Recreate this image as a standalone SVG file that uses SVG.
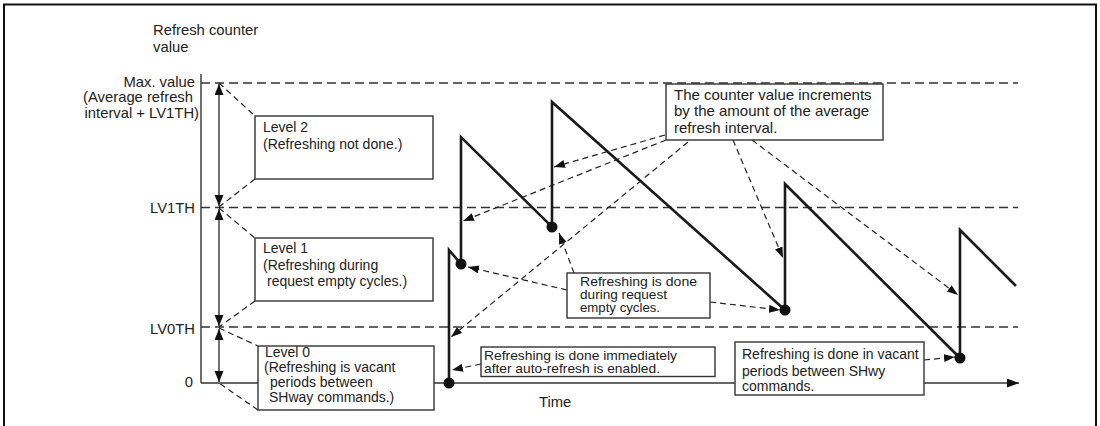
<svg xmlns="http://www.w3.org/2000/svg" width="1100" height="426" viewBox="0 0 1100 426">
<defs>
<style>
text{font-family:"Liberation Sans",Arial,sans-serif;font-size:14px;fill:#222}
.lbl{font-size:14.8px}
.big{font-size:15px}
.tight{font-size:13px}
.box{fill:#fff;stroke:#333;stroke-width:1.4}
.grid{stroke:#333;stroke-width:1.3;stroke-dasharray:9,5;fill:none}
.con{stroke:#222;stroke-width:1.2;stroke-dasharray:6,4;fill:none}
.axis{stroke:#333;stroke-width:1.4;fill:none}
.saw{stroke:#1a1a1a;stroke-width:2.6;fill:none;stroke-linejoin:miter}
</style>
<marker id="ah" markerUnits="userSpaceOnUse" markerWidth="12" markerHeight="9" refX="11" refY="4" orient="auto">
<path d="M0,0 L11,4 L0,8 z" fill="#111"/>
</marker>
<marker id="dh" markerUnits="userSpaceOnUse" markerWidth="12" markerHeight="10" refX="11" refY="4.5" orient="auto-start-reverse">
<path d="M0,0 L11,4.5 L0,9 z" fill="#111"/>
</marker>
<marker id="th" markerUnits="userSpaceOnUse" markerWidth="14" markerHeight="10" refX="12" refY="4.5" orient="auto">
<path d="M0,0 L12,4.5 L0,9 z" fill="#111"/>
</marker>
</defs>

<path d="M4,430 V4.5 H1096 V430" fill="none" stroke="#111" stroke-width="2"/>

<g id="axes">
<line class="grid" x1="201" y1="83" x2="1018" y2="83"/>
<line class="grid" x1="201" y1="207.5" x2="1018" y2="207.5"/>
<line class="grid" x1="201" y1="327" x2="1018" y2="327"/>
<line class="axis" x1="201" y1="74" x2="201" y2="383"/>
<line class="axis" x1="201" y1="383" x2="1019" y2="383" marker-end="url(#th)"/>
<line class="axis" x1="219" y1="84" x2="219" y2="206" marker-start="url(#dh)" marker-end="url(#dh)"/>
<line class="axis" x1="219" y1="209" x2="219" y2="326" marker-start="url(#dh)" marker-end="url(#dh)"/>
<line class="axis" x1="219" y1="329" x2="219" y2="382" marker-start="url(#dh)" marker-end="url(#dh)"/>
<text x="153" y="35" class="lbl">Refresh counter</text>
<text x="153" y="52" class="lbl">value</text>
<text x="195" y="87" class="lbl" text-anchor="end">Max. value</text>
<text x="193" y="102" class="lbl" text-anchor="end">(Average refresh</text>
<text x="199" y="118" class="lbl" text-anchor="end">interval + LV1TH)</text>
<text x="195" y="213" class="lbl" text-anchor="end">LV1TH</text>
<text x="195" y="334" class="lbl" text-anchor="end">LV0TH</text>
<text x="193" y="387" class="lbl" text-anchor="end">0</text>
<text x="539" y="407" class="lbl">Time</text>
</g>

<g id="connectors">
<line class="con" x1="219" y1="83" x2="255" y2="116"/>
<line class="con" x1="255" y1="179" x2="219" y2="207"/>
<line class="con" x1="219" y1="208" x2="255" y2="238"/>
<line class="con" x1="255" y1="301" x2="219" y2="327"/>
<line class="con" x1="219" y1="328" x2="258" y2="346"/>
<line class="con" x1="258" y1="410" x2="219" y2="383"/>
<line class="con" x1="665" y1="135" x2="554" y2="167" marker-end="url(#ah)"/>
<line class="con" x1="666" y1="140" x2="463" y2="221" marker-end="url(#ah)"/>
<line class="con" x1="688" y1="142" x2="451" y2="337" marker-end="url(#ah)"/>
<line class="con" x1="733" y1="140" x2="783" y2="258" marker-end="url(#ah)"/>
<line class="con" x1="752" y1="140" x2="958" y2="295" marker-end="url(#ah)"/>
<line class="con" x1="574" y1="273" x2="559" y2="233" marker-end="url(#ah)"/>
<line class="con" x1="567" y1="290" x2="468" y2="267" marker-end="url(#ah)"/>
<line class="con" x1="710" y1="302" x2="780" y2="310" marker-end="url(#ah)"/>
<line class="con" x1="481" y1="364" x2="452" y2="370" marker-end="url(#ah)"/>
<line class="con" x1="924" y1="360" x2="955" y2="357" marker-end="url(#ah)"/>
</g>

<g id="sawtooth">
<path class="saw" d="M449,383 V250 L461,264 V137 L552,227 V102 L785,310 V184 L960,358 V230 L1016,286"/>
<circle cx="449" cy="383" r="5.5" fill="#111"/>
<circle cx="461" cy="264" r="5.5" fill="#111"/>
<circle cx="552" cy="227" r="5.5" fill="#111"/>
<circle cx="785" cy="310" r="5.5" fill="#111"/>
<circle cx="960" cy="358" r="5.5" fill="#111"/>
</g>

<g id="level2">
<rect class="box" x="255" y="116" width="178" height="63"/>
<text x="263" y="132">Level 2</text>
<text x="263" y="149">(Refreshing not done.)</text>
</g>

<g id="level1">
<rect class="box" x="255" y="238" width="178" height="63"/>
<text x="263" y="253">Level 1</text>
<text x="263" y="270">(Refreshing during</text>
<text x="267" y="286">request empty cycles.)</text>
</g>

<g id="level0">
<rect class="box" x="258" y="346" width="176" height="64"/>
<text x="265" y="357">Level 0</text>
<text x="264" y="372">(Refreshing is vacant</text>
<text x="270" y="387">periods between</text>
<text x="269" y="402">SHway commands.)</text>
</g>

<g id="note-increment">
<rect class="box" x="666" y="84" width="217" height="56"/>
<text x="674" y="100" class="big">The counter value increments</text>
<text x="674" y="116" class="big">by the amount of the average</text>
<text x="674" y="133" class="big">refresh interval.</text>
</g>

<g id="note-empty">
<rect class="box" x="567" y="273" width="143" height="45"/>
<text x="580" y="286" class="tight" textLength="117" lengthAdjust="spacingAndGlyphs">Refreshing is done</text>
<text x="580" y="299" class="tight" textLength="87" lengthAdjust="spacingAndGlyphs">during request</text>
<text x="580" y="312" class="tight" textLength="80" lengthAdjust="spacingAndGlyphs">empty cycles.</text>
</g>

<g id="note-immediate">
<rect class="box" x="481" y="347" width="234" height="29.5"/>
<text x="484" y="360" class="tight" textLength="193" lengthAdjust="spacingAndGlyphs">Refreshing is done immediately</text>
<text x="484" y="373" class="tight" textLength="176" lengthAdjust="spacingAndGlyphs">after auto-refresh is enabled.</text>
</g>

<g id="note-vacant">
<rect class="box" x="735" y="342" width="189" height="53"/>
<text x="742" y="359">Refreshing is done in vacant</text>
<text x="742" y="376">periods between SHwy</text>
<text x="742" y="391">commands.</text>
</g>
</svg>
